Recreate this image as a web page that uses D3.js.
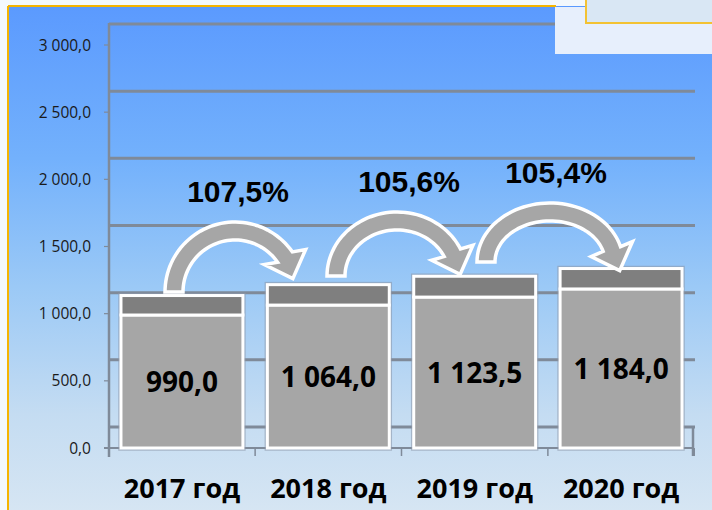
<!DOCTYPE html>
<html>
<head>
<meta charset="utf-8" />
<style>
body { margin:0; background:#f2f7fc; }
svg { display:block; }
.ytick { font-family:"Open Sans"; font-size:15.5px; fill:#1a1a1a; }
.val { font-family:"Open Sans"; font-weight:bold; font-size:28px; fill:#000; }
.cat { font-family:"Open Sans"; font-weight:bold; font-size:27px; fill:#000; }
.pct { font-family:"Liberation Sans"; font-weight:bold; font-size:30px; fill:#000; }
</style>
</head>
<body>
<svg id="chart" width="712" height="510" xmlns="http://www.w3.org/2000/svg"></svg>
<script src="https://cdn.jsdelivr.net/npm/d3@7"></script>
<script>

var cats = ["2017 год", "2018 год", "2019 год", "2020 год"];
var baseVals = [990.0, 1064.0, 1123.5, 1184.0];
var capVals = [145, 152, 155, 152];
var growth = ["107,5%", "105,6%", "105,4%"];
var yTicks = [0, 500, 1000, 1500, 2000, 2500, 3000];

var W = 712, H = 510, depth = 21;
var svg = d3.select("#chart");
var ru = d3.formatLocale({decimal:",", thousands:"\u00a0", grouping:[3], currency:["","₽"]});
var fmt = ru.format(",.1f");

var x = d3.scaleBand().domain(cats).range([110, 693]).paddingInner(0.167).paddingOuter(0.075);
var y = d3.scaleLinear().domain([0, 3000]).range([448, 45]);

// background
var defs = svg.append("defs");
var grad = defs.append("linearGradient").attr("id","bg").attr("x1",0).attr("y1",0).attr("x2",0).attr("y2",1);
[[0,"#5b9afe"],[0.3,"#73b1fc"],[0.55,"#9bc9f6"],[0.8,"#c4dcf2"],[1,"#d7e6f3"]].forEach(function(s) {
	grad.append("stop").attr("offset",s[0]).attr("stop-color",s[1]);
});

svg.append("rect").attr("width",W).attr("height",H).attr("fill","#f3f8fc");
svg.append("rect").attr("x",8).attr("y",6).attr("width",W).attr("height",H).attr("fill","url(#bg)");
svg.append("line").attr("x1",8).attr("x2",8).attr("y1",6).attr("y2",H).attr("stroke","#f5b400").attr("stroke-width",2);
svg.append("line").attr("x1",8).attr("x2",556).attr("y1",6).attr("y2",6).attr("stroke","#f5b400").attr("stroke-width",2);

// back wall gridlines (shifted up for the 3d depth)
svg.append("g").selectAll("line").data(yTicks).enter().append("line")
	.attr("x1",109).attr("x2",695)
	.attr("y1",function(d) { return y(d)-depth; })
	.attr("y2",function(d) { return y(d)-depth; })
	.attr("stroke","#7f8a99").attr("stroke-width",3);

// floor and axes
svg.append("line").attr("x1",693).attr("x2",693).attr("y1",y(0)-depth).attr("y2",y(0)+8)
	.attr("stroke","#7f8a99").attr("stroke-width",2.5);
svg.append("line").attr("x1",109).attr("x2",109).attr("y1",y(3000)-depth-1).attr("y2",y(0)+9)
	.attr("stroke","#7f8a99").attr("stroke-width",2.5);
svg.append("line").attr("x1",104).attr("x2",693).attr("y1",y(0)).attr("y2",y(0))
	.attr("stroke","#7f8a99").attr("stroke-width",2);

var step = x.step(), gap = step*x.paddingInner()/2;
var bounds = cats.map(function(c) { return x(c)-gap; }).concat([x(cats[3])+x.bandwidth()+gap]);
svg.append("g").selectAll("line").data(bounds).enter().append("line")
	.attr("x1",function(d) { return d; }).attr("x2",function(d) { return d; })
	.attr("y1",y(0)).attr("y2",y(0)+8)
	.attr("stroke","#7f8a99").attr("stroke-width",1.5);

var yt = svg.append("g");
yt.selectAll("line").data(yTicks).enter().append("line")
	.attr("x1",104).attr("x2",109)
	.attr("y1",function(d) { return y(d); }).attr("y2",function(d) { return y(d); })
	.attr("stroke","#7f8a99").attr("stroke-width",1.2);
yt.selectAll("text").data(yTicks).enter().append("text")
	.attr("class","ytick")
	.attr("x",91).attr("y",function(d) { return y(d); })
	.attr("dy","0.36em").attr("text-anchor","end")
	.text(function(d) { return fmt(d); });

// bars
var bars = svg.append("g").selectAll("g").data(cats).enter().append("g");
bars.append("rect")
	.attr("x",function(d) { return x(d); })
	.attr("y",function(d,i) { return y(baseVals[i]+capVals[i]); })
	.attr("width",x.bandwidth())
	.attr("height",function(d,i) { return y(0)-y(baseVals[i]+capVals[i]); })
	.attr("fill","none").attr("stroke","#8d9aab").attr("stroke-opacity",0.6).attr("stroke-width",5.5);
bars.append("rect")
	.attr("x",function(d) { return x(d); })
	.attr("y",function(d,i) { return y(baseVals[i]); })
	.attr("width",x.bandwidth())
	.attr("height",function(d,i) { return y(0)-y(baseVals[i]); })
	.attr("fill","#a6a6a6").attr("stroke","#fff").attr("stroke-width",3);
bars.append("rect")
	.attr("x",function(d) { return x(d); })
	.attr("y",function(d,i) { return y(baseVals[i]+capVals[i]); })
	.attr("width",x.bandwidth())
	.attr("height",function(d,i) { return y(baseVals[i])-y(baseVals[i]+capVals[i]); })
	.attr("fill","#7f7f7f").attr("stroke","#fff").attr("stroke-width",3);
bars.append("text")
	.attr("class","val")
	.attr("x",function(d) { return x(d)+x.bandwidth()/2; })
	.attr("y",function(d,i) { return (y(baseVals[i])+y(0))/2; })
	.attr("dy","0.36em").attr("text-anchor","middle")
	.text(function(d,i) { return fmt(baseVals[i]); });

// category labels
svg.append("g").selectAll("text").data(cats).enter().append("text")
	.attr("class","cat")
	.attr("x",function(d) { return x(d)+x.bandwidth()/2; })
	.attr("y",498).attr("text-anchor","middle")
	.text(function(d) { return d; });

// growth arrows
var arrows = [
	{cx:235, cy:292, rx:70, ry:70, end:35, lx:3},
	{cx:397, cy:276, rx:70, ry:64, end:25, lx:12},
	{cx:550, cy:262, rx:73, ry:59, end:15, lx:6}
];

function arrowPath(a) {
	var t = 18, e = 13, L = 23, hd = 20*Math.PI/180;
	var e0 = a.end*Math.PI/180, n = 48;
	var pt = function(rx, ry, th) { return [a.cx+rx*Math.cos(th), a.cy-ry*Math.sin(th)]; };
	var p = d3.path(), q, i, th;
	for (i = 0; i <= n; i++) {
		th = Math.PI-(Math.PI-e0)*i/n;
		q = pt(a.rx, a.ry, th);
		if (i) p.lineTo(q[0],q[1]); else p.moveTo(q[0],q[1]);
	}
	var mid = pt(a.rx-t/2, a.ry-t/2, e0), half = t/2+e;
	var nx = Math.cos(hd), ny = -Math.sin(hd), tx = Math.sin(hd), ty = Math.cos(hd);
	p.lineTo(mid[0]+half*nx, mid[1]+half*ny);
	p.lineTo(mid[0]+L*tx, mid[1]+L*ty);
	p.lineTo(mid[0]-half*nx, mid[1]-half*ny);
	for (i = 0; i <= n; i++) {
		th = e0+(Math.PI-e0)*i/n;
		q = pt(a.rx-t, a.ry-t, th);
		p.lineTo(q[0],q[1]);
	}
	p.closePath();
	return p.toString();
}

svg.append("g").selectAll("path").data(arrows).enter().append("path")
	.attr("d",arrowPath)
	.attr("fill","#a6a6a6").attr("stroke","#fff").attr("stroke-width",3.5).attr("stroke-linejoin","miter");

svg.append("g").selectAll("text").data(growth).enter().append("text")
	.attr("class","pct")
	.attr("x",function(d,i) { return arrows[i].cx+arrows[i].lx; })
	.attr("y",function(d,i) { return arrows[i].cy-arrows[i].ry-20; })
	.attr("text-anchor","middle")
	.text(function(d) { return d; });

// top right overlay box
svg.append("rect").attr("x",555).attr("y",7).attr("width",160).attr("height",47).attr("fill","#e7effc");
svg.append("rect").attr("x",586).attr("y",-3).attr("width",130).attr("height",26)
	.attr("fill","#d9e7f4").attr("stroke","#f3c233").attr("stroke-width",2);

</script>
</body>
</html>
